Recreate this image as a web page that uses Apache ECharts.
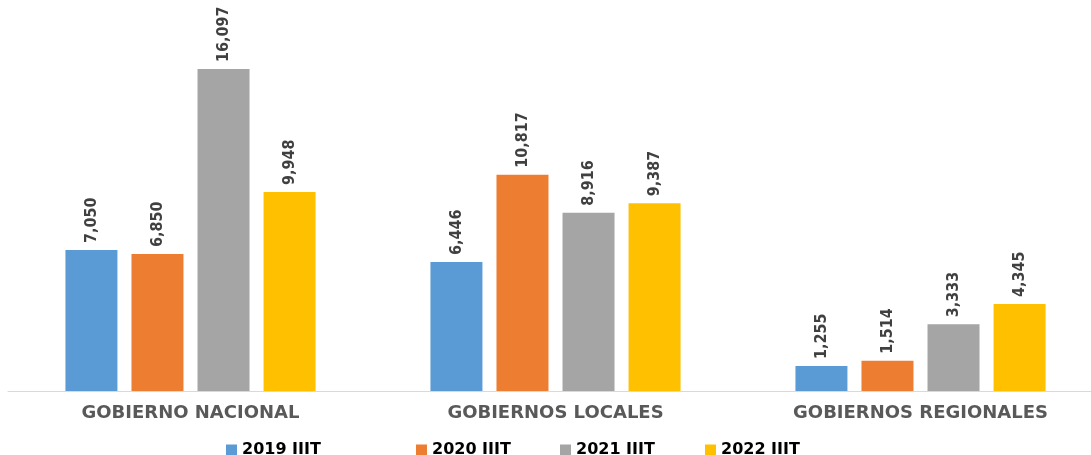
<!DOCTYPE html>
<html>
<head>
<meta charset="utf-8">
<script src="https://cdn.jsdelivr.net/npm/echarts@6/dist/echarts.min.js"></script>
<style>
  html, body { margin: 0; padding: 0; background: #fff; }
  #bar-chart { width: 1091px; height: 455px; }
</style>
</head>
<body>
<div id="bar-chart"></div>
<script>
const categories = ['GOBIERNO NACIONAL', 'GOBIERNOS LOCALES', 'GOBIERNOS REGIONALES']
const seriesNames = ['2019 IIIT', '2020 IIIT', '2021 IIIT', '2022 IIIT']
const data2019 = [7050, 6446, 1255]
const data2020 = [6850, 10817, 1514]
const data2021 = [16097, 8916, 3333]
const data2022 = [9948, 9387, 4345]
const colors = ['#5B9BD5', '#ED7D31', '#A5A5A5', '#FFC000']

const values = [data2019, data2020, data2021, data2022]
// legend entries are spaced unevenly in the original
const legendLeft = [221, 411, 555, 700]

const chart = echarts.init(document.getElementById('bar-chart'))
chart.setOption({
  animation: false,
  grid: { left: 8, width: 1095, top: 10, height: 381, outerBoundsMode: 'none', containLabel: false },
  legend: seriesNames.map((name, i) => ({
    data: [name],
    left: legendLeft[i],
    top: 437,
    icon: 'rect',
    itemWidth: 11,
    itemHeight: 11,
    itemGap: 6,
    textStyle: { color: '#000', fontWeight: 'bold', fontSize: 16, fontFamily: 'DejaVu Sans' }
  })),
  xAxis: {
    type: 'category',
    data: categories,
    axisLine: { lineStyle: { color: '#D9D9D9', width: 1 } },
    axisTick: { show: false },
    axisLabel: {
      color: '#595959',
      fontWeight: 'bold',
      fontSize: 18,
      fontFamily: 'DejaVu Sans',
      margin: 13
    }
  },
  yAxis: {
    type: 'value',
    min: 0,
    max: 19050,
    show: false,
    splitLine: { show: false }
  },
  series: seriesNames.map((name, i) => ({
    name: name,
    type: 'bar',
    barWidth: 52,
    barGap: '27%',
    itemStyle: { color: colors[i] },
    label: {
      show: true,
      position: 'top',
      rotate: 90,
      align: 'left',
      verticalAlign: 'middle',
      distance: 7,
      color: '#404040',
      fontWeight: 'bold',
      fontSize: 16,
      fontFamily: 'DejaVu Sans Condensed',
      formatter: p => p.value.toLocaleString('en-US')
    },
    data: values[i]
  }))
})
</script>
</body>
</html>
